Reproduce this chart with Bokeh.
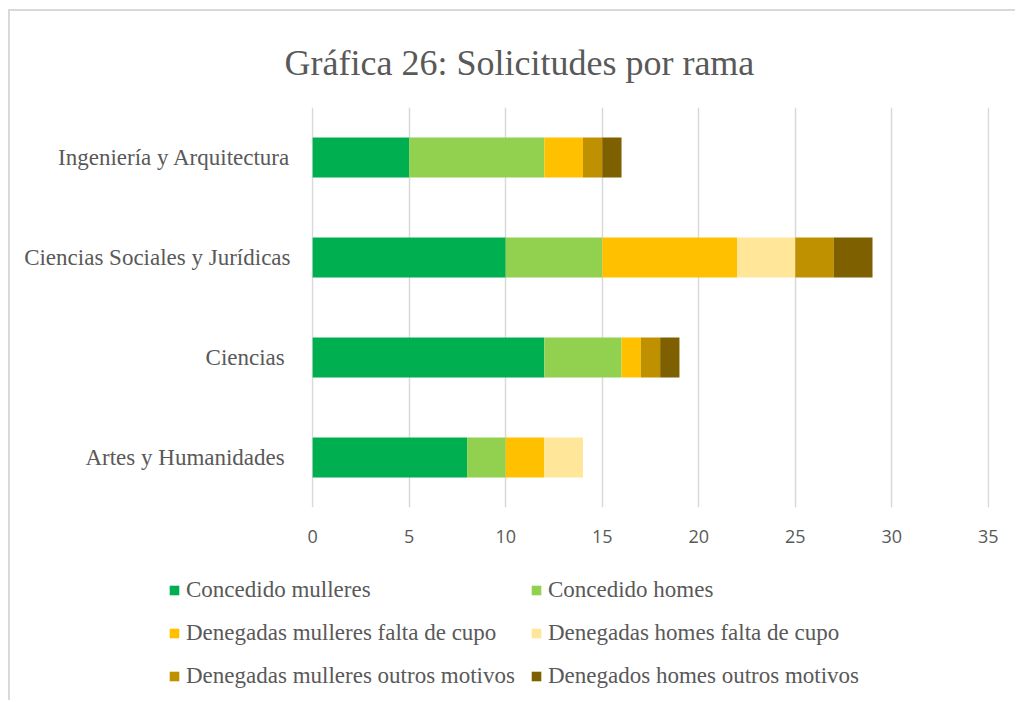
from bokeh.plotting import figure
from bokeh.layouts import column
from bokeh.models import ColumnDataSource, FactorRange, Range1d, Legend, LegendItem, SingleIntervalTicker
from bokeh.embed import file_html
from bokeh.resources import INLINE

categories = ["Artes y Humanidades ", "Ciencias ", "Ciencias Sociales y Jurídicas", "Ingeniería y Arquitectura"]
series_names = ["Concedido mulleres", "Concedido homes", "Denegadas mulleres falta de cupo",
                "Denegadas homes falta de cupo", "Denegadas mulleres outros motivos",
                "Denegados homes outros motivos"]
concedido_mulleres = [8, 12, 10, 5]
concedido_homes = [2, 4, 5, 7]
denegadas_mulleres_cupo = [2, 1, 7, 2]
denegadas_homes_cupo = [2, 0, 3, 0]
denegadas_mulleres_outros = [0, 1, 2, 1]
denegados_homes_outros = [0, 1, 2, 1]
colors = ["#00B050", "#92D050", "#FFC000", "#FFE699", "#BF9000", "#7F6000"]
x_ticks_interval = 5

keys = ["s0", "s1", "s2", "s3", "s4", "s5"]
data = dict(cat=categories, s0=concedido_mulleres, s1=concedido_homes, s2=denegadas_mulleres_cupo,
            s3=denegadas_homes_cupo, s4=denegadas_mulleres_outros, s5=denegados_homes_outros)
source = ColumnDataSource(data)

SERIF = "Liberation Serif"
GREY = "#595959"

# ---- main chart ----
p = figure(width=1005, height=549, y_range=FactorRange(*categories, range_padding=0),
           x_range=Range1d(-0.06, 35.06), output_backend="svg", toolbar_location=None,
           min_border_left=301, min_border_right=26, min_border_top=96, min_border_bottom=53)
p.outline_line_color = None
p.background_fill_color = "white"
p.border_fill_color = "white"

p.hbar_stack(keys, y="cat", height=0.4, color=colors, line_color=None, source=source)

p.title.text = "Gráfica 26: Solicitudes por rama"
p.title.align = "left"
p.title.offset = -27
p.title.standoff = 49
p.title.text_font = SERIF
p.title.text_font_size = "36px"
p.title.text_font_style = "normal"
p.title.text_color = GREY

p.xaxis.ticker = SingleIntervalTicker(interval=x_ticks_interval)
p.xaxis.axis_line_color = None
p.xaxis.major_tick_line_color = None
p.xaxis.minor_tick_line_color = None
p.xaxis.major_tick_out = 0
p.xaxis.major_tick_in = 0
p.xaxis.major_label_standoff = 18
p.xaxis.major_label_text_font = "Open Sans"
p.xaxis.major_label_text_font_size = "18px"
p.xaxis.major_label_text_color = GREY

p.yaxis.axis_line_color = None
p.yaxis.major_tick_line_color = None
p.yaxis.major_tick_out = 0
p.yaxis.major_tick_in = 0
p.yaxis.major_label_standoff = 21
p.yaxis.major_label_text_font = SERIF
p.yaxis.major_label_text_font_size = "23px"
p.yaxis.major_label_text_color = GREY

p.xgrid.grid_line_color = "#d9d9d9"
p.xgrid.grid_line_width = 1.5
p.ygrid.grid_line_color = None

# ---- legend strip (same series, ranges chosen so only the legend shows) ----
p2 = figure(width=1005, height=140, y_range=FactorRange(*categories), x_range=Range1d(-10, -5),
            output_backend="svg", toolbar_location=None, min_border=0,
            x_axis_location=None, y_axis_location=None)
p2.outline_line_color = None
p2.grid.visible = False
p2.background_fill_color = "white"
p2.border_fill_color = "white"
leg_renderers = p2.hbar_stack(keys, y="cat", height=0.4, color=colors, line_color=None, source=source)

for fig in (p, p2):
    try:
        fig.frame_align = False
    except Exception:
        pass

legend = Legend(items=[LegendItem(label=series_names[i], renderers=[leg_renderers[i]]) for i in range(6)],
                location=(158, 10), orientation="horizontal", nrows=3, padding=0, margin=0, spacing=15,
                glyph_width=12, glyph_height=12, label_standoff=6, label_height=28,
                border_line_color=None, background_fill_alpha=0,
                label_text_font=SERIF, label_text_font_size="23px", label_text_color=GREY)
p2.add_layout(legend)

layout = column(p, p2, spacing=0,
                styles={"border-left": "2px solid #d9d9d9", "border-top": "2px solid #d9d9d9",
                        "margin-left": "8px", "margin-top": "9px"})

open("out.html", "w").write(file_html(layout, INLINE))
